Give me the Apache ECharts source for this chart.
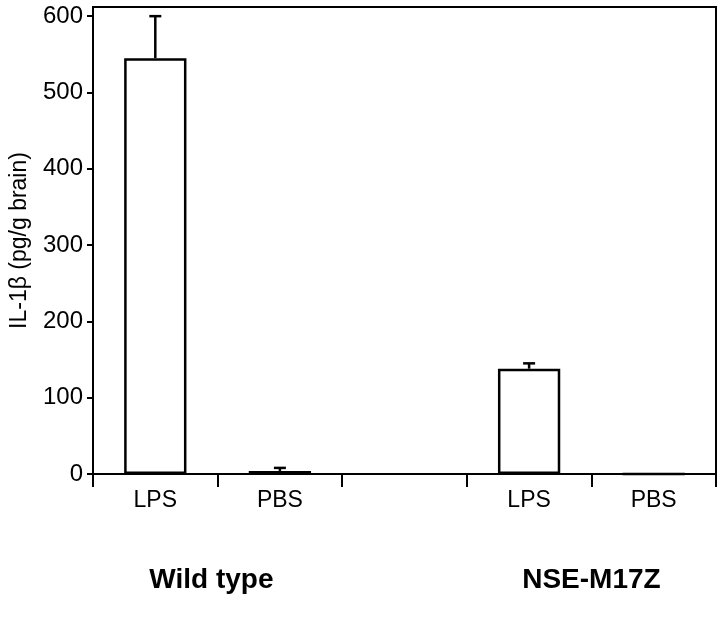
<!DOCTYPE html>
<html>
<head>
<meta charset="utf-8">
<script src="https://cdn.jsdelivr.net/npm/echarts@6/dist/echarts.min.js"></script>
<style>
  html, body { margin: 0; padding: 0; background: #fff; }
  #chart { width: 720px; height: 624px; }
</style>
</head>
<body>
<div id="chart"></div>
<script>
// treatment per slot, the empty slot separates the two genotypes
const categories = ['LPS', 'PBS', '', 'LPS', 'PBS']
const means = [545, 4, null, 138, 0]
const errUpper = [600, 8, null, 145, null]
const yTicks = [0, 100, 200, 300, 400, 500, 600]
const groupNames = ['Wild type', 'NSE-M17Z']
const groupSpans = [[0, 1.9], [3, 5]]

const FONT = 'Liberation Sans, Arial, Helvetica, sans-serif'
const chart = echarts.init(document.getElementById('chart'))

const groupCenters = groupSpans.map(s => (s[0] + s[1]) / 2)

chart.setOption({
  animation: false,
  backgroundColor: '#fff',
  grid: { left: 90, right: 4, top: 7, bottom: 150, show: true, borderColor: '#000', borderWidth: 2, backgroundColor: 'transparent' },
  xAxis: [{
    type: 'category', data: categories, position: 'bottom',
    axisLine: { lineStyle: { color: '#000', width: 2 } },
    axisTick: { show: true, length: 13, lineStyle: { color: '#000', width: 2 } },
    axisLabel: { color: '#000', fontFamily: FONT, fontSize: 23, margin: 15 },
  }, {
    type: 'value', min: 0, max: 5, position: 'bottom', offset: 92,
    axisLine: { show: false }, axisTick: { show: false }, splitLine: { show: false },
    axisLabel: {
      customValues: groupCenters,
      formatter: v => groupNames[groupCenters.indexOf(v)] || '',
      color: '#000', fontFamily: FONT, fontSize: 28, fontWeight: 'bold', margin: 0,
    },
  }],
  yAxis: {
    type: 'value', min: 0, max: 612,
    name: 'IL-1β (pg/g brain)', nameLocation: 'middle', nameGap: 62, nameRotate: 90,
    nameTextStyle: { color: '#000', fontFamily: FONT, fontSize: 23 },
    axisLine: { show: true, lineStyle: { color: '#000', width: 2 } },
    axisTick: { show: true, length: 6, customValues: yTicks, lineStyle: { color: '#000', width: 2 } },
    axisLabel: { customValues: yTicks, color: '#000', fontFamily: FONT, fontSize: 24, margin: 10 },
    splitLine: { show: false },
  },
  series: [{
    type: 'bar', data: means, barWidth: '50%',
    itemStyle: { color: '#fff', borderColor: '#000', borderWidth: 2.5 },
    z: 3,
  }, {
    type: 'custom', z: 4,
    data: categories.map((c, i) => [i, means[i], errUpper[i]]).filter(d => d[2] != null),
    renderItem: (params, api) => {
      const base = api.coord([api.value(0), api.value(1)])
      const top = api.coord([api.value(0), api.value(2)])
      const half = 6
      const style = { stroke: '#000', lineWidth: 2.5 }
      return { type: 'group', children: [
        { type: 'line', shape: { x1: base[0], y1: base[1], x2: top[0], y2: top[1] }, style },
        { type: 'line', shape: { x1: top[0] - half, y1: top[1], x2: top[0] + half, y2: top[1] }, style },
      ] }
    },
  }],
})
</script>
</body>
</html>
